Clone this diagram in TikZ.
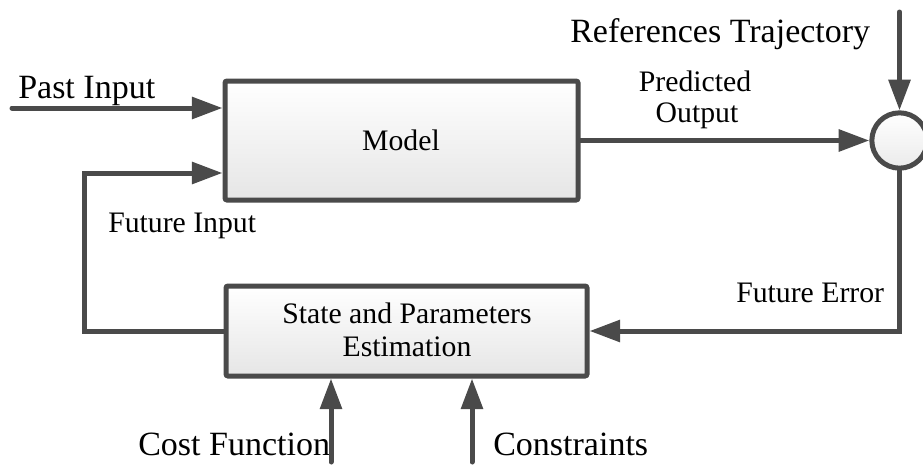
\documentclass[tikz,border=0pt]{standalone}
\usepackage{fontspec}
\setmainfont{Liberation Serif}
\usetikzlibrary{arrows.meta,shadows}
\definecolor{lc}{HTML}{4A4A4A}
\tikzset{
  blk/.style={draw=lc, line width=3.75pt, rounded corners=1.5pt, top color=white, bottom color=black!10,
    drop shadow={opacity=0.18, shadow xshift=1.5pt, shadow yshift=-1.5pt}, inner sep=0pt},
  sumnode/.style={circle, draw=lc, line width=3.75pt, top color=white, bottom color=black!8,
    minimum size=41.5pt, inner sep=0pt},
  arr/.style={draw=lc, line width=3.75pt, line cap=round, -{Triangle[length=23pt,width=16pt]}},
  bigt/.style={inner sep=0pt, font=\fontsize{25.5}{30}\selectfont},
  smallt/.style={inner sep=0pt, font=\fontsize{22.3}{26}\selectfont},
}
\begin{document}
\begin{tikzpicture}[x=0.75pt, y=-0.75pt]
\useasboundingbox (0,0) rectangle (923,464);
% blocks
\node[blk, minimum width=264.75pt, minimum height=89.25pt] (model) at (401.5,140.5) {};
\node[blk, minimum width=270.75pt, minimum height=67.5pt] (est) at (406.5,331) {};
\node[sumnode] (sum) at (899.5,140.5) {};
% texts
\node[smallt, anchor=base] (tmodel) at (401,150) {Model};
\node[smallt, anchor=base] (test1) at (407,323) {State and Parameters};
\node[smallt, anchor=base] (test2) at (407,356) {Estimation};
\node[bigt, anchor=base west] (tpast) at (18,98) {Past Input};
\node[bigt, anchor=base west] (tref) at (570,42) {References Trajectory};
\node[smallt, anchor=base] (tpred1) at (695,91) {Predicted};
\node[smallt, anchor=base] (tpred2) at (697,122) {Output};
\node[smallt, anchor=base west] (tfin) at (108,232) {Future Input};
\node[smallt, anchor=base west] (terr) at (736,302) {Future Error};
\node[bigt, anchor=base west] (tcost) at (138,455) {Cost Function};
\node[bigt, anchor=base west] (tcons) at (493,455) {Constraints};
% free ends
\coordinate (pin) at (12,108);
\coordinate (fin) at (84,173);
\coordinate (rin) at (899.5,12);
\coordinate (cin) at (331,462);
\coordinate (kin) at (472,462);
% connectors
\draw[arr] (pin) -- (pin -| model.west);
\draw[arr] (est.west) -| (fin) -- (fin -| model.west);
\draw[arr] (model.east) -- (sum.west);
\draw[arr] (rin) -- (sum.north);
\draw[arr] (sum.south) |- (est.east);
\draw[arr] (cin) -- (cin |- est.south);
\draw[arr] (kin) -- (kin |- est.south);
\end{tikzpicture}
\end{document}
